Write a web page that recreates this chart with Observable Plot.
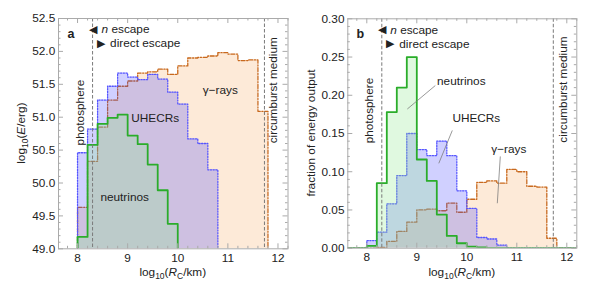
<!DOCTYPE html>
<html><head><meta charset="utf-8">
<script src="https://cdn.jsdelivr.net/npm/d3@7"></script>
<script src="https://cdn.jsdelivr.net/npm/@observablehq/plot@0.6"></script>
<style>
body{margin:0;background:#fff;}
#wrap{display:flex;width:598px;height:282px;}
svg text{font-family:"Liberation Sans",Arial,sans-serif;}
</style></head><body><div id="wrap"></div>
<script>
// ---------- data ----------
const binEdges = [8.0, 8.2, 8.4, 8.6, 8.8, 9.0, 9.2, 9.4, 9.6, 9.8, 10.0, 10.2, 10.4, 10.6, 10.8, 11.0, 11.2, 11.4, 11.6, 11.8, 12.0];
// panel a: log10(E/erg) per bin (bins starting at 8.0)
const neutrinosA = [49.18, 50.58, 50.90, 50.99, 51.04, 50.72, 50.59, 50.28, 49.89, 49.38];
const uhecrA = [50.46, 50.82, 51.26, 51.47, 51.67, 51.61, 51.57, 51.65, 51.58, 51.38, 51.20, 50.67, 50.60, 50.20];
const gammaA = [49.63, 50.33, 50.85, 51.26, 51.47, 51.55, 51.67, 51.69, 51.73, 51.65, 51.78, 51.90, 51.91, 51.93, 51.98, 51.96, 51.86, 51.87, 51.09];
// panel b: fraction of energy output per bin (bins starting at 8.0)
const neutrinosB = [0.003, 0.085, 0.178, 0.210, 0.250, 0.116, 0.088, 0.044, 0.016, 0.0065, 0.002, 0.001];
const uhecrB = [0.010, 0.021, 0.058, 0.095, 0.150, 0.129, 0.121, 0.140, 0.121, 0.075, 0.052, 0.014, 0.012, 0.004];
const gammaB = [0, 0.001, 0.009, 0.022, 0.034, 0.050, 0.051, 0.049, 0.059, 0.047, 0.064, 0.086, 0.088, 0.085, 0.103, 0.100, 0.081, 0.080, 0.013];
// reference lines
const photosphereX = 8.3;
const mediumX = 11.73;
// ticks
const xTicks = [8, 9, 10, 11, 12];
const yTicksA = [49.0, 49.5, 50.0, 50.5, 51.0, 51.5, 52.0, 52.5];
const yTicksB = [0.00, 0.05, 0.10, 0.15, 0.20, 0.25, 0.30];
const xDomain = [7.62, 12.2];

// ---------- helpers ----------
function stepPoints(vals, base, fullRange) {
  const pts = [];
  vals.forEach((v, i) => { pts.push({x: binEdges[i], y: v}, {x: binEdges[i + 1], y: v}); });
  const first = pts[0].x, last = pts[pts.length - 1].x;
  const out = [];
  if (fullRange) out.push({x: xDomain[0], y: base});
  out.push({x: first, y: base}, ...pts, {x: last, y: base});
  if (fullRange) out.push({x: xDomain[1], y: base});
  return out;
}

const FS = 11.8;
const frameColor = "#aaaaaa";
const inkColor = "#222";

const styles = {
  gamma: {fill: "#f7963a", fo: 0.2, stroke: "#c8691e", sw: 1.3, dash: "4,1.6,1.2,1.6"},
  uhecr: {fill: "#3a3aff", fo: 0.24, stroke: "#5555ff", sw: 1.3, dash: "1.2,1.5"},
  nu: {fill: "#8fe88f", fo: 0.28, stroke: "#2aad2a", sw: 1.8, dash: null}
};

function panel(cfg) {
  const H = 282;
  const pw = cfg.width - cfg.ml - cfg.mr, ph = H - cfg.mt - cfg.mb;
  const marks = [];
  for (const s of cfg.series) {
    const st = styles[s.key];
    const pts = stepPoints(s.vals, cfg.base, cfg.fullBase);
    marks.push(Plot.areaY(pts, {x: "x", y1: () => cfg.base, y2: "y", fill: st.fill, fillOpacity: st.fo, clip: true}));
    marks.push(Plot.line(pts, {x: "x", y: "y", stroke: st.stroke, strokeWidth: st.sw, strokeDasharray: st.dash, clip: true}));
  }
  marks.push(Plot.ruleX([photosphereX, mediumX], {stroke: "#7a7a7a", strokeDasharray: "3.5,2", strokeWidth: 1}));
  // texts
  for (const t of cfg.texts) {
    marks.push(Plot.text([t], {x: "x", y: "y", text: "text", rotate: t.rotate || 0, textAnchor: t.anchor || "middle",
      fontSize: t.fs || FS, fontWeight: t.bold ? "bold" : "normal", fill: inkColor}));
  }
  if (cfg.links) marks.push(Plot.link(cfg.links, {x1: "x1", y1: "y1", x2: "x2", y2: "y2", stroke: "#777", strokeWidth: 0.75}));
  // frame & ticks (inward, on all four sides)
  marks.push(Plot.frame({stroke: frameColor, strokeWidth: 1}));
  const minorX = d3.range(7.8, 12.21, 0.2).filter(v => Math.abs(v - Math.round(v)) > 1e-6);
  marks.push(Plot.ruleX(xTicks, {insetTop: ph - 5, stroke: frameColor}));
  marks.push(Plot.ruleX(xTicks, {insetBottom: ph - 5, stroke: frameColor}));
  marks.push(Plot.ruleX(minorX, {insetTop: ph - 2.5, stroke: frameColor}));
  marks.push(Plot.ruleX(minorX, {insetBottom: ph - 2.5, stroke: frameColor}));
  marks.push(Plot.ruleY(cfg.yTicks, {insetRight: pw - 5, stroke: frameColor}));
  marks.push(Plot.ruleY(cfg.yTicks, {insetLeft: pw - 5, stroke: frameColor}));
  marks.push(Plot.ruleY(cfg.minorY, {insetRight: pw - 2.5, stroke: frameColor}));
  marks.push(Plot.ruleY(cfg.minorY, {insetLeft: pw - 2.5, stroke: frameColor}));
  marks.push(Plot.axisX({ticks: xTicks, tickSize: 0, tickPadding: 4.5, label: null, tickFormat: d => String(d)}));
  marks.push(Plot.axisY({ticks: cfg.yTicks, tickSize: 0, tickPadding: 3.3, label: null, tickFormat: cfg.yFmt}));

  const svg = Plot.plot({
    width: cfg.width, height: H,
    marginLeft: cfg.ml, marginRight: cfg.mr, marginTop: cfg.mt, marginBottom: cfg.mb,
    x: {domain: xDomain}, y: {domain: cfg.ydom},
    style: {fontFamily: "Liberation Sans, Arial, sans-serif", fontSize: FS + "px", color: inkColor, background: "#fff"},
    marks
  });
  // italic "n"
  d3.select(svg).selectAll("text").each(function() {
    if (this.textContent === "n escape") {
      const t = d3.select(this); t.text(null);
      t.append("tspan").attr("font-style", "italic").text("n");
      t.append("tspan").text(" escape");
    }
  });
  // axis titles with sub/italic parts
  const addTitle = (x, y, parts, rot) => {
    const t = d3.select(svg).append("text")
      .attr("transform", `translate(${x},${y})` + (rot ? " rotate(-90)" : ""))
      .attr("text-anchor", "middle").attr("font-size", FS).attr("fill", inkColor)
      .attr("dy", rot ? "0.35em" : null);
    let shift = 0;
    for (const [txt, kind] of parts) {
      const sp = t.append("tspan").text(txt);
      if (kind === "sub") { sp.attr("font-size", FS * 0.72).attr("dy", 3.2 - shift); shift = 3.2; }
      else { if (shift) sp.attr("dy", -shift); shift = 0; if (kind === "it") sp.attr("font-style", "italic"); }
    }
  };
  addTitle(cfg.ml + pw / 2, 275.5, [["log", ""], ["10", "sub"], ["(", ""], ["R", "it"], ["C", "sub"], ["/km)", ""]], false);
  addTitle(cfg.ylabX, cfg.mt + ph / 2, cfg.ylabel, true);
  return svg;
}

const wrap = document.getElementById("wrap");
wrap.appendChild(panel({
  width: 298, ml: 58, mr: 10.5, mt: 18, mb: 33.7,
  ydom: [49, 52.5], yTicks: yTicksA, yFmt: d => d.toFixed(1),
  minorY: d3.range(49, 52.51, 0.1).filter(v => Math.abs(v * 2 - Math.round(v * 2)) > 1e-6),
  base: 49, fullBase: false,
  series: [{key: "gamma", vals: gammaA}, {key: "uhecr", vals: uhecrA}, {key: "nu", vals: neutrinosA}],
  texts: [
    {x: 7.87, y: 52.27, text: "a", bold: true, fs: 12.5},
    {x: 8.30, y: 52.33, text: "◀", fs: 10.5},
    {x: 8.48, y: 52.33, text: "n escape", anchor: "start"},
    {x: 8.47, y: 52.12, text: "▶", fs: 10.5},
    {x: 8.65, y: 52.12, text: "direct escape", anchor: "start"},
    {x: 8.06, y: 51.07, text: "photosphere", rotate: -90},
    {x: 11.91, y: 51.41, text: "circumburst medium", rotate: -90},
    {x: 10.85, y: 51.41, text: "γ−rays"},
    {x: 9.55, y: 50.99, text: "UHECRs"},
    {x: 8.94, y: 49.79, text: "neutrinos"}
  ],
  ylabX: 21, ylabel: [["log", ""], ["10", "sub"], ["(", ""], ["E", "it"], ["/erg)", ""]]
}));
wrap.appendChild(panel({
  width: 300, ml: 49.3, mr: 21.7, mt: 18.3, mb: 34.3,
  ydom: [0, 0.30], yTicks: yTicksB, yFmt: d => d.toFixed(2),
  minorY: d3.range(0, 0.301, 0.01).filter(v => Math.abs(v * 20 - Math.round(v * 20)) > 1e-6),
  base: 0, fullBase: true,
  series: [{key: "gamma", vals: gammaB}, {key: "uhecr", vals: uhecrB}, {key: "nu", vals: neutrinosB}],
  texts: [
    {x: 7.87, y: 0.280, text: "b", bold: true, fs: 12.5},
    {x: 8.31, y: 0.2856, text: "◀", fs: 10.5},
    {x: 8.47, y: 0.2856, text: "n escape", anchor: "start"},
    {x: 8.47, y: 0.267, text: "▶", fs: 10.5},
    {x: 8.65, y: 0.267, text: "direct escape", anchor: "start"},
    {x: 8.04, y: 0.180, text: "photosphere", rotate: -90},
    {x: 11.93, y: 0.2075, text: "circumburst medium", rotate: -90},
    {x: 9.89, y: 0.219, text: "neutrinos"},
    {x: 10.19, y: 0.1696, text: "UHECRs"},
    {x: 10.84, y: 0.130, text: "γ−rays"}
  ],
  links: [
    {x1: 9.37, y1: 0.2127, x2: 8.81, y2: 0.182},
    {x1: 9.71, y1: 0.154, x2: 9.44, y2: 0.111},
    {x1: 10.67, y1: 0.120, x2: 10.61, y2: 0.0588}
  ],
  ylabX: 12.5, ylabel: [["fraction of energy output", ""]]
}));
</script>
</body></html>
